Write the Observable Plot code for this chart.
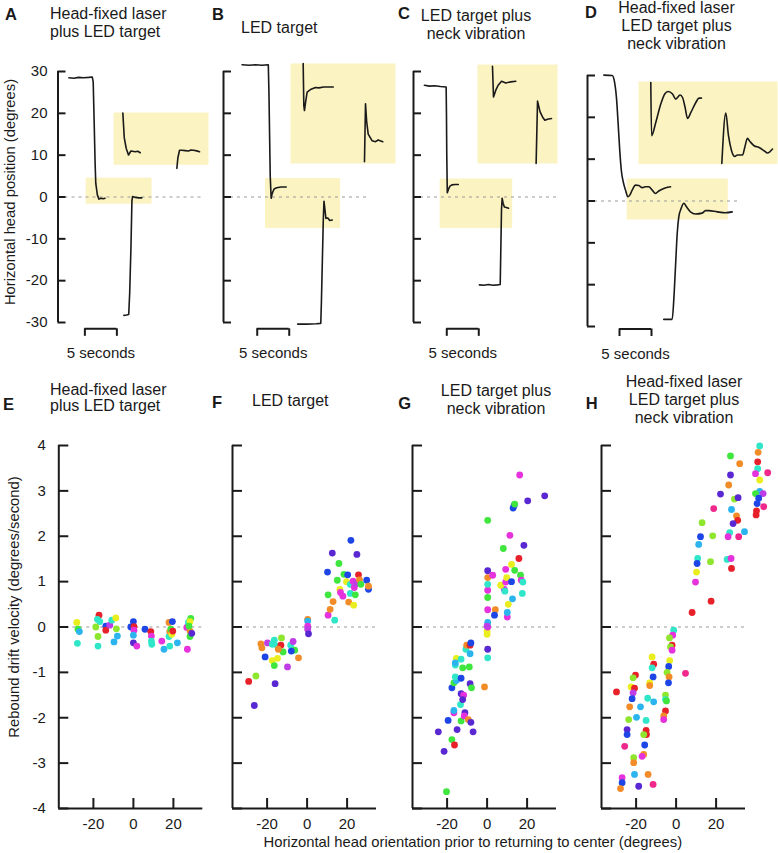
<!DOCTYPE html>
<html><head><meta charset="utf-8">
<script src="https://cdn.jsdelivr.net/npm/d3@7"></script>
<script src="https://cdn.jsdelivr.net/npm/@observablehq/plot@0.6"></script>
<style>
body{margin:0;background:#fff;}
#fig{position:relative;width:778px;height:853px;font-family:"Liberation Sans",Arial,Helvetica,sans-serif;color:#1a1a1a;overflow:hidden;background:#fff}
.t{position:absolute;white-space:pre;}
.w{position:absolute;}
</style></head><body><div id="fig"></div>
<script>
// ---------- data ----------
const posTicks = [-30, -20, -10, 0, 10, 20, 30];       // head position ticks (deg)
const velTicks = [-4, -3, -2, -1, 0, 1, 2, 3, 4];      // drift velocity ticks (deg/s)
const orientTicks = [-20, 0, 20];                       // orientation ticks (deg)
const orientDomain = [-37.3, 34.7];
const scaleBarSeconds = 5;

const subjectKeys = ["r","o","y","l","g","c","s","b","i","p","m","k"];
const subjectColors = ["#e8202a","#f28c28","#eaee1e","#8ee62e","#3ee63e","#30e6c8","#2cb4ee","#1e46e6","#5a28d2","#c03ce6","#e632dc","#f0288c"];

// time traces [seconds, degrees]
const traceA1 = [[1.7,28.5],[2.5,28.4],[3.2,28.6],[4.0,28.5],[4.8,28.6],[5.35,28.7],[5.5,27.5],[5.65,18],[5.8,8],[5.9,3.3],[6.15,0.5],[6.4,-0.5],[6.75,-0.3],[7.05,-0.4],[7.35,-0.3]];
const traceA2 = [[10.3,-28.3],[10.7,-28.2],[11.05,-28.1],[11.2,-23],[11.4,-12],[11.55,-1],[11.65,0.1],[12.1,-0.1],[12.6,-0.2],[13.1,-0.2]];
const traceB1 = [[2.9,31.6],[4,31.5],[5,31.6],[6,31.5],[7.0,31.6],[7.1,25],[7.2,15],[7.3,5],[7.45,-0.3],[7.6,0.8],[7.9,1.9],[8.3,2.2],[9,2.4],[9.8,2.4]];
const traceB2 = [[11.6,-30.4],[13,-30.4],[14.5,-30.3],[15.2,-30.2],[15.3,-25],[15.45,-15],[15.6,-5],[15.7,-1],[15.85,-3],[16.0,-5.1],[16.3,-5],[16.6,-5.6],[17.0,-5.5]];
const traceC1 = [[1.7,26.7],[2.5,26.5],[3.3,26.6],[4.2,26.4],[5.1,26.3],[5.15,20],[5.2,10],[5.28,1.0],[5.45,1.8],[5.7,2.6],[6.0,2.9],[6.5,3.0],[7.0,3.0]];
const traceC2 = [[10.3,-21.0],[11,-21.1],[11.7,-20.9],[12.4,-21.1],[13.1,-21.0],[13.55,-20.9],[13.65,-12],[13.75,-3],[13.85,-0.3],[14.0,-1.5],[14.2,-2.4],[14.5,-2.5],[14.85,-2.7]];
const traceD1 = [[2.55,30.1],[3.86,30.0],[4.22,28.5],[4.53,24.6],[4.8,18.2],[5.05,11.8],[5.31,7.0],[5.58,4.6],[5.94,2.6],[6.3,1.0],[6.61,1.4],[6.98,2.6],[7.5,3.8],[8.02,3.7],[8.55,3.2],[9.06,3.4],[9.58,3.4],[10.11,2.6],[10.63,1.8],[11.14,2.4],[11.92,3.0],[12.97,3.4]];
const traceD2 = [[11.92,-28.3],[13.23,-28.3],[13.48,-23.7],[13.75,-15.7],[14.02,-7.7],[14.27,-3.75],[14.64,-1.75],[15.05,-0.55],[15.47,-1.4],[16.09,-2.6],[16.88,-3.1],[17.92,-2.9],[18.44,-2.3],[18.95,-2.3],[20.27,-2.6],[21.56,-2.8],[22.61,-2.6]];

// highlighted windows [t start, t end, deg low, deg high]
const boxA = [4.4, 14.7, -1.7, 4.5];
const boxB = [6.56, 18.3, -7.5, 4.4];
const boxC = [4.17, 15.5, -7.5, 4.3];
const boxD = [6.2, 22.0, -4.55, 5.26];

// magnified inset traces [zoomed seconds, degrees]
const insetA1 = [[0.73,4.43],[0.84,1.52],[0.99,0.26],[1.17,-0.54],[1.36,-0.06],[1.7,-0.15],[1.9,-0.1],[2.09,-0.27]];
const insetA2 = [[4.95,-2.13],[5.03,-0.86],[5.16,0.02],[5.34,0.02],[5.6,-0.02],[5.86,-0.06],[6.05,0.05],[6.25,0.02],[6.5,-0.05],[6.72,-0.15]];
const insetB1 = [[0.99,4.4],[1.04,-0.6],[1.09,-1.2],[1.18,-0.2],[1.3,1.0],[1.56,1.3],[1.95,1.55],[2.21,1.5],[2.6,1.6],[3.34,1.6]];
const insetB2 = [[5.78,-7.3],[5.86,-0.4],[5.95,-2.5],[6.07,-4.0],[6.38,-4.8],[6.64,-4.9],[6.85,-4.7],[7.21,-4.9]];
const insetC1 = [[1.17,4.1],[1.25,0.44],[1.43,1.24],[1.61,1.83],[1.88,2.31],[2.21,2.1],[2.6,2.23],[2.99,2.31]];
const insetC2 = [[4.58,-7.5],[4.69,-0.07],[4.89,-1.35],[5.08,-1.95],[5.26,-2.34],[5.47,-2.22],[5.78,-2.14]];
const insetD1 = [[0.96,5.14],[1.02,-1.18],[1.35,0.4],[1.74,2.58],[2.05,3.77],[2.31,4.07],[2.66,3.77],[2.91,3.17],[3.25,3.65],[3.44,3.36],[3.64,2.18],[3.83,0.87],[4.09,1.58],[4.48,2.77],[4.73,3.29],[4.92,3.29]];
const insetD2 = [[6.51,-4.47],[6.82,1.51],[7.03,-1.18],[7.27,-2.96],[7.52,-3.64],[7.73,-3.47],[8.13,-3.47],[8.3,-2.57],[8.51,-1.5],[8.72,-1.89],[9.03,-2.37],[9.42,-2.57],[9.81,-2.96],[10.08,-3.23],[10.47,-2.76]];

// scatter [orientation deg, drift velocity deg/s, subject]
const dotsE = [[-28.3,0.1,"y"],[-27.7,-0.05,"g"],[-27,-0.1,"s"],[-28,-0.36,"c"],[-17.2,0.26,"r"],[-18,0.17,"c"],[-16.8,0.12,"c"],[-18.8,0,"l"],[-17.7,-0.21,"l"],[-17.7,-0.42,"c"],[-13.8,0.02,"b"],[-13.8,-0.07,"r"],[-11.8,0.04,"p"],[-10.8,0.15,"c"],[-8.8,0.2,"y"],[-8.5,-0.04,"l"],[-8,-0.2,"s"],[-9.7,-0.33,"s"],[-1.3,0,"b"],[0,0.12,"b"],[0.3,0.01,"r"],[0.3,-0.07,"m"],[0,-0.18,"s"],[0,-0.35,"i"],[1.7,-0.42,"m"],[5.8,-0.05,"b"],[8.7,-0.1,"r"],[9,-0.2,"m"],[9,-0.31,"c"],[9.2,-0.38,"c"],[14.2,-0.31,"m"],[15.3,-0.49,"s"],[18.2,-0.42,"c"],[17.8,-0.21,"c"],[18.2,-0.1,"o"],[17.8,0.1,"o"],[19.5,0.12,"b"],[18.7,-0.05,"g"],[19.2,-0.16,"y"],[19.7,-0.09,"r"],[22,-0.35,"s"],[26.7,-0.01,"m"],[27,-0.49,"m"],[27.5,0.1,"c"],[28.7,0.19,"g"],[28.3,0.12,"y"],[28.3,-0.09,"o"],[28.3,-0.21,"g"],[29.2,-0.14,"i"],[27.8,0.02,"g"]];
const dotsF = [[-29.2,-1.2,"r"],[-25.6,-1.08,"l"],[-26.4,-1.73,"i"],[-23.1,-0.37,"o"],[-22.6,-0.46,"o"],[-19.8,-0.35,"p"],[-21,-0.66,"b"],[-17.4,-0.38,"c"],[-16.4,-0.29,"c"],[-14.8,-0.42,"c"],[-12.8,-0.24,"l"],[-13.1,-0.4,"r"],[-12,-0.55,"g"],[-14.4,-0.49,"o"],[-17.4,-0.74,"y"],[-16.4,-0.85,"g"],[-14.8,-0.69,"y"],[-16,-1.25,"i"],[-9.8,-0.88,"p"],[-8.2,-0.4,"c"],[-7,-0.32,"p"],[-6.2,-0.51,"g"],[-7.9,-0.53,"b"],[-4.3,-0.68,"o"],[0.3,0.17,"o"],[0.3,0.13,"s"],[0.3,0.02,"m"],[0.3,-0.05,"p"],[0.7,-0.15,"i"],[10.2,1.21,"b"],[10.5,0.71,"g"],[10.5,0.26,"m"],[11.5,0.39,"o"],[12.6,1.63,"i"],[13,0.56,"o"],[13.8,0.15,"c"],[15.9,1.4,"g"],[15.1,1.03,"g"],[16.4,0.83,"y"],[16.7,0.76,"m"],[17.9,0.68,"m"],[18.4,1.16,"g"],[19.7,1,"y"],[20.3,1.15,"b"],[20.8,0.55,"o"],[21.9,1.91,"b"],[21.6,0.94,"c"],[21.6,0.74,"c"],[23,1.01,"m"],[23.3,0.48,"y"],[23.6,0.87,"m"],[24.1,0.71,"g"],[24.9,1.6,"i"],[24.6,0.96,"p"],[25.7,1.15,"r"],[26.2,1.04,"o"],[26.9,0.94,"g"],[29.8,1.03,"b"],[30.7,0.83,"b"],[30.7,0.9,"o"]];
const dotsG = [[-20.3,-3.63,"g"],[-21.5,-2.74,"i"],[-24.4,-2.31,"i"],[-19.5,-2.06,"b"],[-17.6,-2.48,"g"],[-16.3,-2.6,"r"],[-15,-2.26,"i"],[-16.6,-1.89,"m"],[-16.6,-1.84,"s"],[-13,-2.07,"g"],[-11.1,-1.89,"i"],[-11.4,-1.96,"m"],[-9.4,-2.04,"o"],[-8.1,-2.1,"i"],[-7,-2.31,"i"],[-13.3,-1.71,"c"],[-13,-1.47,"i"],[-11.7,-1.5,"m"],[-12.2,-1.6,"i"],[-17.6,-1.34,"b"],[-16.6,-1.23,"g"],[-15.4,-1.18,"s"],[-15.9,-1.1,"c"],[-13,-1.13,"b"],[-8.5,-1.25,"i"],[-7.8,-1.34,"g"],[-15.9,-0.84,"c"],[-15.4,-0.69,"y"],[-15.9,-0.79,"s"],[-13,-0.71,"c"],[-12.2,-0.9,"g"],[-8.9,-0.88,"g"],[-10.6,-0.49,"c"],[-8.5,-0.59,"s"],[-10.2,-0.4,"o"],[-8.5,-0.4,"r"],[-8.1,-0.35,"b"],[-1.3,-1.32,"o"],[0.3,-0.68,"c"],[0.3,-0.49,"i"],[0,-0.16,"y"],[0,-0.09,"y"],[0.3,0,"m"],[0.3,0.1,"s"],[0,0.02,"p"],[0.3,0.38,"m"],[4.1,0.38,"o"],[3.7,0.26,"b"],[0.3,0.65,"g"],[0.3,0.81,"m"],[0.3,0.94,"c"],[0.3,1.09,"o"],[0.3,1.24,"i"],[2.8,1.14,"m"],[0.3,2.35,"g"],[10.1,0.22,"m"],[10.1,0.32,"s"],[10.6,0.5,"y"],[12.7,0.62,"s"],[8.6,0.83,"p"],[8.9,0.79,"c"],[6.8,0.92,"y"],[9.3,0.99,"m"],[9.3,1.27,"m"],[9.8,1.09,"y"],[12.2,1,"b"],[12.2,1.38,"y"],[13.8,1.25,"g"],[8.1,1.73,"g"],[11.4,2.02,"m"],[15.9,1.51,"r"],[16.7,1.14,"g"],[17.1,1.03,"m"],[17.9,0.99,"c"],[17.6,0.74,"c"],[18.4,1.8,"i"],[13,2.62,"b"],[13.5,2.68,"b"],[13.8,2.71,"g"],[20.3,2.78,"i"],[28.8,2.89,"i"],[16.3,3.35,"m"]];
const dotsH = [[41.8,3.99,"c"],[41,3.85,"o"],[40.8,3.64,"r"],[40.8,3.49,"c"],[39.7,3.38,"m"],[45.8,3.4,"k"],[41.8,3.24,"y"],[41.8,2.99,"s"],[39.7,2.94,"g"],[43.5,2.94,"p"],[41.3,2.84,"b"],[40.5,2.72,"b"],[43.8,2.65,"k"],[40.2,2.56,"r"],[40,2.47,"r"],[27.2,3.77,"g"],[31.8,3.6,"o"],[27.2,3.35,"i"],[26.3,3.13,"o"],[22.2,2.93,"i"],[29.2,2.82,"l"],[31,2.85,"i"],[18.8,2.61,"k"],[27.7,2.59,"s"],[30.2,2.45,"o"],[30.8,2.35,"r"],[28.5,2.28,"i"],[26.8,2.08,"c"],[26,1.99,"m"],[31.3,1.99,"k"],[34.2,2.1,"s"],[13,2.3,"l"],[12.2,1.99,"b"],[11.3,1.82,"s"],[18.3,2.01,"l"],[17.2,1.44,"l"],[10.8,1.51,"c"],[10.5,1.4,"b"],[10.2,1.21,"y"],[9.7,0.99,"m"],[25.5,1.49,"c"],[27.5,1.51,"m"],[27.7,1.29,"r"],[17.5,0.57,"r"],[8,0.32,"r"],[4.7,-1.02,"k"],[-1.2,-0.07,"c"],[-1.7,-0.18,"m"],[-3.3,-0.24,"l"],[-2,-0.4,"r"],[-2.8,-0.44,"l"],[-2,-0.51,"m"],[-3.2,-0.74,"y"],[-3.7,-0.87,"b"],[-4.5,-1,"l"],[-3.5,-1.1,"o"],[-3.8,-1.23,"b"],[-5.3,-1.5,"l"],[-5.3,-1.6,"c"],[-4.8,-1.63,"g"],[-5.3,-1.85,"r"],[-6.2,-1.96,"o"],[-6.2,-2.04,"m"],[-12,-0.66,"y"],[-11.2,-0.82,"r"],[-12,-0.9,"c"],[-11.5,-1.1,"b"],[-13.2,-1.23,"y"],[-13.2,-1.29,"o"],[-11.2,-1.65,"s"],[-14.2,-1.57,"c"],[-15,-2.06,"c"],[-15,-2.28,"r"],[-14.8,-2.37,"r"],[-16.2,-2.37,"l"],[-15.7,-2.6,"b"],[-16.2,-2.81,"o"],[-17,-2.85,"m"],[-17.8,-1.76,"s"],[-19.8,-1.99,"s"],[-20.3,-1.06,"r"],[-21.5,-1.12,"l"],[-22.5,-1.32,"y"],[-20.8,-1.35,"r"],[-21.5,-1.45,"p"],[-22,-1.58,"b"],[-23.2,-1.76,"o"],[-23.7,-2.04,"l"],[-24.5,-2.26,"i"],[-24.5,-2.37,"b"],[-25.7,-2.63,"k"],[-21.2,-2.88,"l"],[-21.2,-2.99,"o"],[-20.8,-3.25,"s"],[-29.8,-1.43,"r"],[-27,-3.32,"m"],[-27,-3.43,"b"],[-27.8,-3.56,"o"],[-18.7,-3.51,"i"],[-14,-3.25,"o"],[-11.5,-3.47,"k"]];

const panelLetters = ["A","B","C","D","E","F","G","H"];
const panelTitles = ["Head-fixed laser\nplus LED target","LED target","LED target plus\nneck vibration","Head-fixed laser\nLED target plus\nneck vibration",
                     "Head-fixed laser\nplus LED target","LED target","LED target plus\nneck vibration","Head-fixed laser\nLED target plus\nneck vibration"];
const yTitleTop = "Horizontal head position (degrees)";
const yTitleBottom = "Rebound drift velocity (degrees/second)";
const xTitleBottom = "Horizontal head orientation prior to returning to center (degrees)";
const scaleBarLabel = "5 seconds";

// ---------- drawing ----------
const INK = "#1a1a1a", DASH = "#9a9a9a", YELLOW = "#fcf3c2";
const STYLE = {fontFamily: "'Liberation Sans', Arial, Helvetica, sans-serif", fontSize: "15px", background: "transparent", overflow: "visible", color: INK};
const fig = document.getElementById("fig");
function put(svg, left, top) {
  const d = document.createElement("div");
  d.className = "w";
  d.style.left = left + "px"; d.style.top = top + "px";
  d.appendChild(svg); fig.appendChild(d);
}

function topPanel(p) {
  const plotH = 251, mB = 45, mR = 6;
  const W = p.mL + p.plotW + mR, H = p.mT + plotH + mB;
  const marks = [
    Plot.rect([p.box], {x1: d => d[0], x2: d => d[1], y1: d => d[2], y2: d => d[3], fill: YELLOW}),
    Plot.ruleY([0], {stroke: DASH, strokeDasharray: "3,4", strokeWidth: 1.1}),
    Plot.line(p.t1, {x: d => d[0], y: d => d[1], stroke: INK, strokeWidth: 1.6, curve: p.curve}),
    Plot.line(p.t2, {x: d => d[0], y: d => d[1], stroke: INK, strokeWidth: 1.6, curve: p.curve}),
    Plot.ruleX([0], {y1: -30, y2: 30, stroke: INK, strokeWidth: 2}),
    Plot.tickY(posTicks, {y: d => d, insetRight: p.plotW - 8, stroke: INK, strokeWidth: 2}),
    Plot.ruleY([p.bar], {x1: d => d, x2: d => d + scaleBarSeconds, y: -30, dy: p.barDy, stroke: INK, strokeWidth: 2}),
    Plot.ruleX([p.bar, p.bar + scaleBarSeconds], {x: d => d, y1: -30, y2: -31.8, dy: p.barDy, stroke: INK, strokeWidth: 2}),
    Plot.text([scaleBarLabel], {x: p.bar + scaleBarSeconds / 2, y: -30, dy: p.labelDy, text: d => d, lineAnchor: "bottom", fontSize: 15})
  ];
  if (p.labels) {
    marks.push(Plot.text(posTicks, {x: 0, y: d => d, text: d => String(d), textAnchor: "end", dx: -10.5, fontSize: 15}));
    marks.push(Plot.text([yTitleTop], {frameAnchor: "left", textAnchor: "middle", rotate: -90, dx: -48, dy: -5, text: d => d, fontSize: 14.8}));
  }
  const svg = Plot.plot({
    width: W, height: H, marginLeft: p.mL, marginRight: mR, marginTop: p.mT, marginBottom: mB,
    x: {domain: [0, p.plotW / 6.4], axis: null},
    y: {domain: [-30, 30], axis: null},
    style: STYLE, marks
  });
  put(svg, p.axisX - p.mL, p.top);
}

function insetPanel(p) {
  const svg = Plot.plot({
    width: p.w, height: p.h, margin: 0,
    x: {domain: [0, p.w / 12.8], axis: null},
    y: {domain: [p.box[2], p.box[3]], axis: null},
    style: STYLE,
    marks: [
      Plot.frame({fill: YELLOW, stroke: "none"}),
      Plot.line(p.t1, {x: d => d[0], y: d => d[1], stroke: INK, strokeWidth: 1.6, curve: p.curve}),
      Plot.line(p.t2, {x: d => d[0], y: d => d[1], stroke: INK, strokeWidth: 1.6, curve: p.curve})
    ]
  });
  put(svg, p.left, p.top);
}

function bottomPanel(p) {
  const plotW = 144, plotH = 363, mT = 15, mB = 45, mR = 10;
  const marks = [
    Plot.ruleY([0], {stroke: DASH, strokeDasharray: "3,4", strokeWidth: 1.1}),
    Plot.ruleX([orientDomain[0]], {y1: -4, y2: 4, stroke: INK, strokeWidth: 2}),
    Plot.ruleY([-4], {stroke: INK, strokeWidth: 2}),
    Plot.tickY(velTicks, {y: d => d, insetRight: plotW - 10, stroke: INK, strokeWidth: 2}),
    Plot.tickX(orientTicks, {x: d => d, insetTop: plotH - 10, stroke: INK, strokeWidth: 2}),
    Plot.text(orientTicks, {x: d => d, y: -4, dy: 16, text: d => String(d), fontSize: 15}),
    Plot.dot(p.dots, {x: d => d[0], y: d => d[1], fill: d => d[2], r: 3.4})
  ];
  if (p.labels) {
    marks.push(Plot.text(velTicks, {x: orientDomain[0], y: d => d, text: d => String(d), textAnchor: "end", dx: -13, fontSize: 15}));
    marks.push(Plot.text([yTitleBottom], {frameAnchor: "left", textAnchor: "middle", rotate: -90, dx: -45, dy: -20, text: d => d, fontSize: 14.8}));
  }
  const svg = Plot.plot({
    width: p.mL + plotW + mR, height: mT + plotH + mB,
    marginLeft: p.mL, marginRight: mR, marginTop: mT, marginBottom: mB,
    x: {domain: orientDomain, axis: null},
    y: {domain: [-4, 4], axis: null},
    color: {domain: subjectKeys, range: subjectColors},
    style: STYLE, marks
  });
  put(svg, p.axisX - p.mL, 430);
}

// top row
topPanel({axisX: 57.5, mL: 57.5, top: 50, mT: 21, plotW: 145, t1: traceA1, t2: traceA2, box: boxA, bar: 4.2, barDy: 6.3, labelDy: 35.5, labels: true, curve: "linear"});
topPanel({axisX: 223, mL: 20, top: 50, mT: 21, plotW: 145, t1: traceB1, t2: traceB2, box: boxB, bar: 5.27, barDy: 6.3, labelDy: 35.5, curve: "linear"});
topPanel({axisX: 413.3, mL: 20, top: 50, mT: 21, plotW: 147, t1: traceC1, t2: traceC2, box: boxC, bar: 5.2, barDy: 6.3, labelDy: 35.5, curve: "linear"});
topPanel({axisX: 587, mL: 20, top: 53.6, mT: 21, plotW: 153, t1: traceD1, t2: traceD2, box: boxD, bar: 5.0, barDy: 2.5, labelDy: 32, curve: "monotone-x"});

insetPanel({left: 113.3, top: 111.7, w: 95, h: 52.3, box: boxA, t1: insetA1, t2: insetA2, curve: "linear"});
insetPanel({left: 290, top: 63.3, w: 105, h: 100, box: boxB, t1: insetB1, t2: insetB2, curve: "linear"});
insetPanel({left: 476.7, top: 64.3, w: 80, h: 99, box: boxC, t1: insetC1, t2: insetC2, curve: "linear"});
insetPanel({left: 637.7, top: 80.7, w: 139, h: 82.6, box: boxD, t1: insetD1, t2: insetD2, curve: "monotone-x"});

// bottom row
bottomPanel({axisX: 58.3, mL: 58.3, dots: dotsE, labels: true});
bottomPanel({axisX: 231.7, mL: 20, dots: dotsF});
bottomPanel({axisX: 412.3, mL: 20, dots: dotsG});
bottomPanel({axisX: 601, mL: 20, dots: dotsH});

// ---------- text ----------
function label(text, x, baseline, {size = 16, weight = "normal", align = "left", lh = 18.3} = {}) {
  const d = document.createElement("div");
  d.className = "t";
  d.style.fontSize = size + "px";
  d.style.fontWeight = weight;
  d.style.lineHeight = lh + "px";
  d.style.top = (baseline - ((lh - 1.117 * size) / 2 + 0.905 * size)) + "px";
  if (align === "center") { d.style.left = (x - 150) + "px"; d.style.width = "300px"; d.style.textAlign = "center"; }
  else d.style.left = x + "px";
  d.textContent = text;
  fig.appendChild(d);
}
const letterPos = [[5,20],[212,20],[398,19],[585,17.3],[3,409.3],[212,407.7],[398.3,409],[585.7,409]];
panelLetters.forEach((L, i) => label(L, letterPos[i][0], letterPos[i][1], {size: 16.5, weight: "bold", lh: 18}));
label(panelTitles[0], 50, 19.5, {lh: 18.3});
label(panelTitles[1], 241, 33.2);
label(panelTitles[2], 476, 21.7, {align: "center"});
label(panelTitles[3], 676.5, 13.3, {align: "center"});
label(panelTitles[4], 50, 395.5, {lh: 16.5});
label(panelTitles[5], 252, 406.5);
label(panelTitles[6], 496, 396.5, {align: "center"});
label(panelTitles[7], 684, 387.5, {align: "center"});
label(xTitleBottom, 413.5, 848, {size: 14.8, align: "center", lh: 17});
</script>
</body></html>
